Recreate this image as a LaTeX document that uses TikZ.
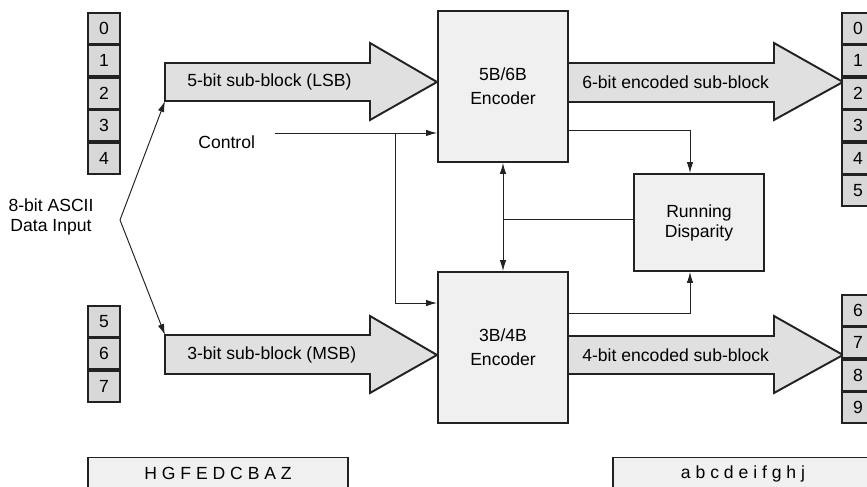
\documentclass[tikz,border=0pt]{standalone}
\usepackage{fontspec}
\setmainfont{Liberation Sans}
\usetikzlibrary{arrows.meta}

\definecolor{cellgray}{RGB}{216,216,216}
\definecolor{arrowgray}{RGB}{224,224,224}
\definecolor{boxgray}{RGB}{240,240,240}
\definecolor{linedark}{RGB}{34,34,34}

\tikzset{
  bitcell/.style={draw=linedark,fill=cellgray,line width=1.1pt,minimum width=0.64cm,minimum height=0.62cm,inner sep=0pt,font=\fontsize{10}{12}\selectfont},
  encbox/.style={draw=linedark,fill=boxgray,line width=1.1pt,minimum width=2.6cm,minimum height=3.02cm,align=center,font=\fontsize{10}{13.7}\selectfont},
  rdbox/.style={draw=linedark,fill=boxgray,line width=1.1pt,minimum width=2.6cm,minimum height=1.94cm,align=center,font=\fontsize{10}{11.4}\selectfont},
  wordbox/.style={draw=linedark,fill=boxgray,line width=1.1pt,minimum width=5.2cm,minimum height=0.64cm,inner sep=0pt,font=\fontsize{10}{12}\selectfont},
  fatarrow/.style={draw=linedark,fill=arrowgray,line width=1.1pt,line join=miter},
  txt/.style={inner sep=0pt,align=center,font=\fontsize{10}{11.4}\selectfont},
  wire/.style={draw=linedark,line width=0.55pt},
  >={Latex[length=2.2mm,width=1.3mm]}
}

\begin{document}
\begin{tikzpicture}

\useasboundingbox (0,0) rectangle (17.34,9.74);
\clip (0,0) rectangle (17.34,9.74);

%% - Draw fat arrows
%% - --------------------------------------
%% - 5-bit sub-block (LSB)
\filldraw[fatarrow] (3.30,8.48) -- (7.40,8.48) -- (7.40,8.88) -- (8.74,8.10) -- (7.40,7.34) -- (7.40,7.72) -- (3.30,7.72) -- cycle;
%% - 3-bit sub-block (MSB)
\filldraw[fatarrow] (3.30,3.04) -- (7.40,3.04) -- (7.40,3.42) -- (8.74,2.64) -- (7.40,1.88) -- (7.40,2.26) -- (3.30,2.26) -- cycle;
%% - 6-bit encoded sub-block
\filldraw[fatarrow] (11.36,8.48) -- (15.48,8.48) -- (15.48,8.88) -- (16.86,8.10) -- (15.48,7.34) -- (15.48,7.70) -- (11.36,7.70) -- cycle;
%% - 4-bit encoded sub-block
\filldraw[fatarrow] (11.36,3.02) -- (15.48,3.02) -- (15.48,3.42) -- (16.86,2.64) -- (15.48,1.88) -- (15.48,2.26) -- (11.36,2.26) -- cycle;

\node[txt,anchor=west] (lsbtxt) at (3.74,8.10) {5-bit sub-block (LSB)};
\node[txt,anchor=west] (msbtxt) at (3.74,2.64) {3-bit sub-block (MSB)};
\node[txt,anchor=west] (sixtxt) at (11.64,8.10) {6-bit encoded sub-block};
\node[txt,anchor=west] (fourtxt) at (11.64,2.64) {4-bit encoded sub-block};

%% - Draw bit cells
%% - --------------------------------------
\node[bitcell] (lbit0) at (2.08,9.175) {0};
\node[bitcell] (lbit1) at (2.08,8.525) {1};
\node[bitcell] (lbit2) at (2.08,7.875) {2};
\node[bitcell] (lbit3) at (2.08,7.225) {3};
\node[bitcell] (lbit4) at (2.08,6.575) {4};
\node[bitcell] (lbit5) at (2.08,3.315) {5};
\node[bitcell] (lbit6) at (2.08,2.665) {6};
\node[bitcell] (lbit7) at (2.08,2.015) {7};

\node[bitcell] (rbit0) at (17.16,9.175) {0};
\node[bitcell] (rbit1) at (17.16,8.525) {1};
\node[bitcell] (rbit2) at (17.16,7.875) {2};
\node[bitcell] (rbit3) at (17.16,7.225) {3};
\node[bitcell] (rbit4) at (17.16,6.575) {4};
\node[bitcell] (rbit5) at (17.16,5.925) {5};
\node[bitcell] (rbit6) at (17.16,3.535) {6};
\node[bitcell] (rbit7) at (17.16,2.885) {7};
\node[bitcell] (rbit8) at (17.16,2.235) {8};
\node[bitcell] (rbit9) at (17.16,1.585) {9};

%% - Draw blocks
%% - --------------------------------------
\node[encbox] (enc56) at (10.06,8.01) {5B/6B\\Encoder};
\node[encbox] (enc34) at (10.06,2.79) {3B/4B\\Encoder};
\node[rdbox] (rd) at (13.98,5.29) {Running\\Disparity};

\node[wordbox] (inword) at (4.36,0.27) {H G F E D C B A Z};
\node[wordbox] (outword) at (14.86,0.27) {a b c d e i f g h j};

%% - Input split
%% - --------------------------------------
\node[txt] (ascii) at (1.02,5.40) {8-bit ASCII\\Data Input};
\coordinate (split) at (2.40,5.34);
\coordinate (lsbin) at (3.30,7.72);
\coordinate (msbin) at (3.30,3.04);
\draw[wire,->] (split) -- (lsbin);
\draw[wire,->] (split) -- (msbin);

%% - Control
%% - --------------------------------------
\node[txt,anchor=west] (ctrl) at (3.96,6.90) {Control};
\coordinate (ctlstart) at (5.50,7.08);
\coordinate (ctlbranch) at (7.90,7.08);
\draw[wire,->] (ctlstart) -- (ctlstart -| enc56.west);
\draw[wire,->] (ctlbranch) |- ([yshift=-0.64cm]enc34.north west);

%% - Running disparity
%% - --------------------------------------
\draw[wire,->] ([yshift=0.64cm]enc56.south east) -| ([xshift=-0.18cm]rd.north);
\draw[wire,->] ([yshift=-0.84cm]enc34.north east) -| ([xshift=-0.18cm]rd.south);
\path ([yshift=0.07cm]rd.west) coordinate (rdout);
\coordinate (rdjoin) at (rdout -| enc56.south);
\draw[wire] (rdout) -- (rdjoin);
\draw[wire,->] (rdjoin) -- (enc56.south);
\draw[wire,->] (rdjoin) -- (enc34.north);

\end{tikzpicture}
\end{document}
